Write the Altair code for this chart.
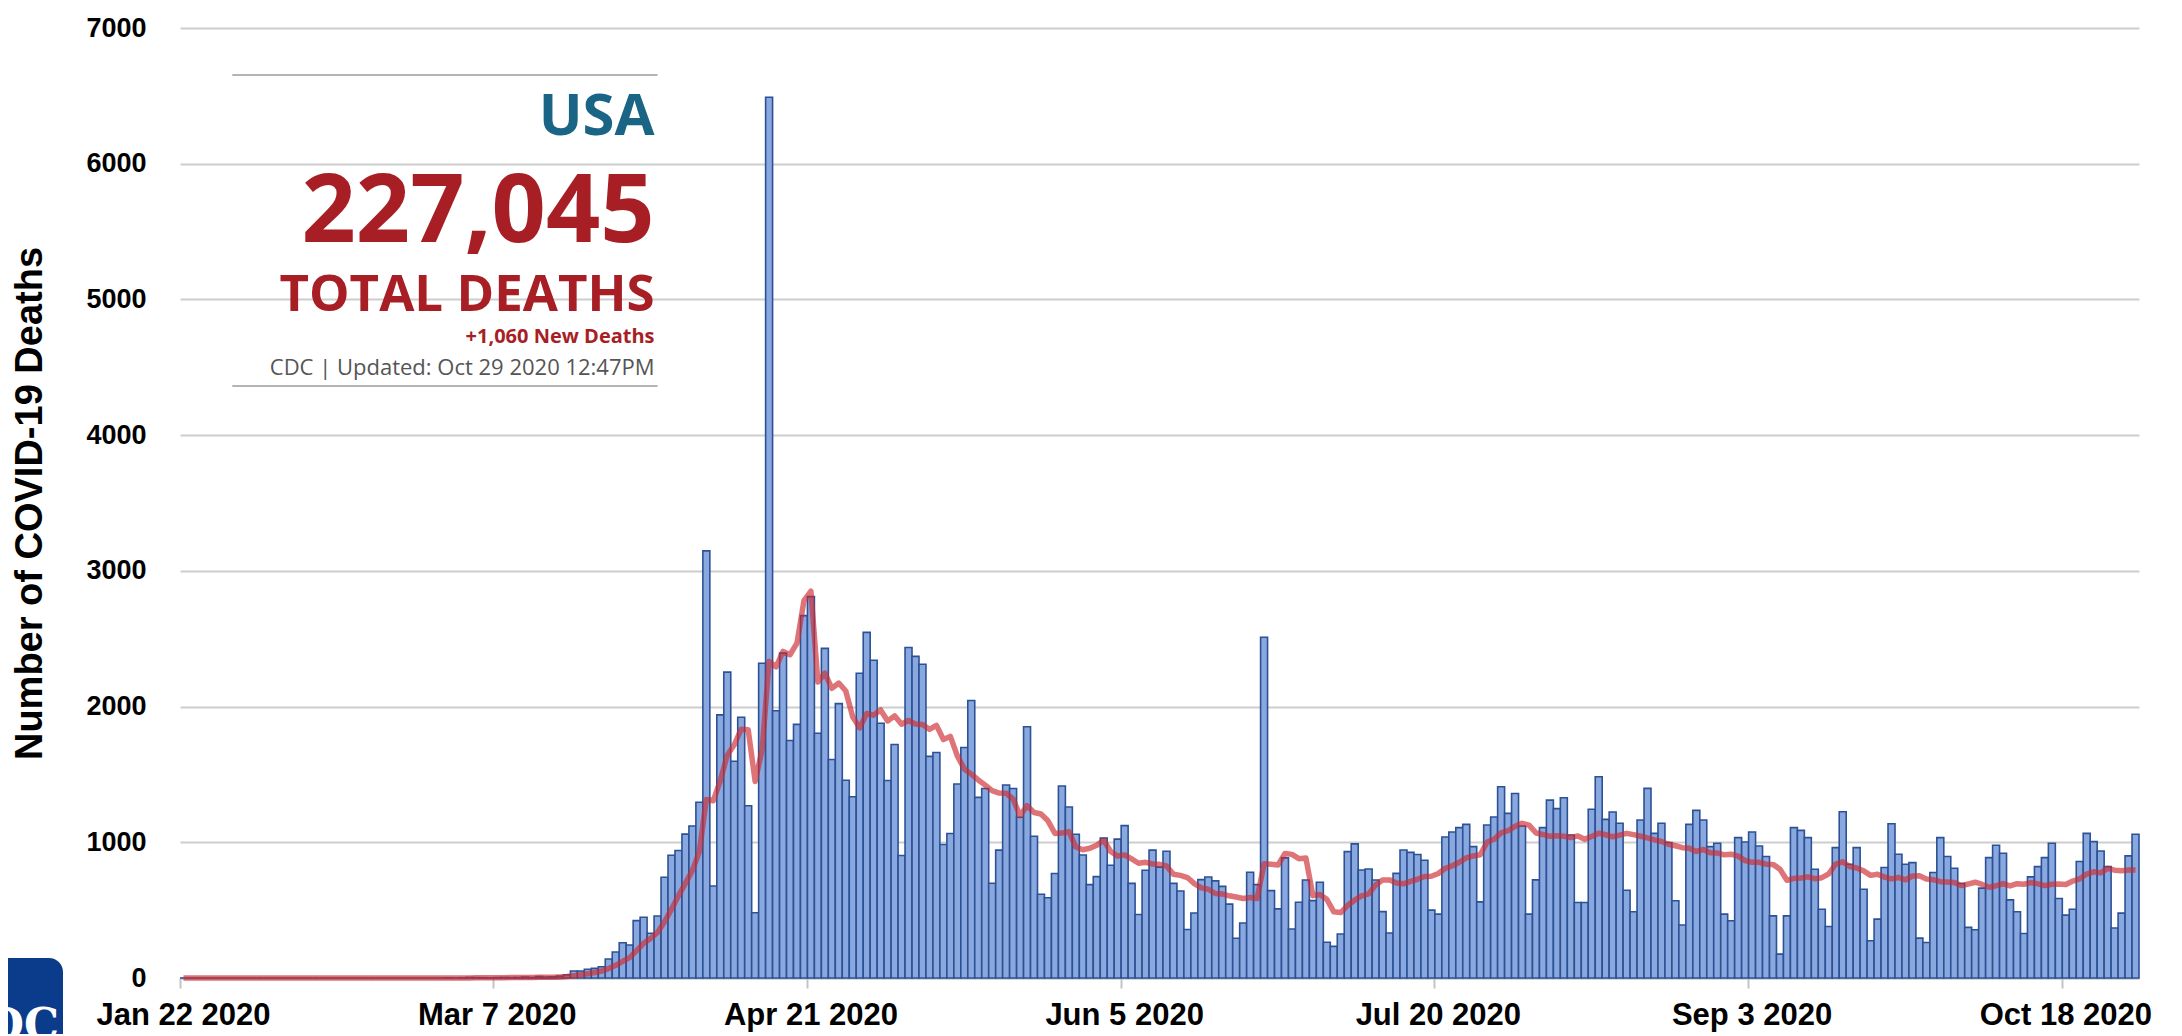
import altair as alt
import pandas as pd

# ---------------- data (daily new deaths, Jan 22 - Oct 28 2020) ----------------
start_date = "2020-01-22"
deaths_jan = [0, 0, 0, 0, 0, 0, 0, 0, 0, 0]
deaths_feb = [0, 0, 0, 0, 0, 0, 0, 0, 0, 0, 0, 0, 0, 0, 0, 0, 0, 0, 0, 0,
              0, 0, 0, 0, 0, 0, 0, 0, 1]
deaths_mar = [0, 1, 4, 3, 2, 1, 3, 4, 3, 4, 7, 4, 11, 7, 9, 14, 23, 52, 52, 64,
              71, 83, 140, 192, 260, 243, 423, 448, 330, 457, 742]
deaths_apr = [905, 939, 1060, 1120, 1295, 3147, 678, 1939, 2254, 1597, 1921, 1269,
              481, 2319, 6490, 1969, 2394, 1750, 1869, 2670, 2810, 1803, 2429, 1610,
              2022, 1457, 1335, 2245, 2547, 2341]
deaths_may = [1877, 1455, 1721, 903, 2435, 2370, 2312, 1633, 1662, 984, 1065, 1429,
              1698, 2045, 1331, 1396, 698, 942, 1422, 1396, 1185, 1851, 1045, 617,
              591, 770, 1415, 1260, 1059, 906, 688]
deaths_jun = [747, 1031, 831, 1023, 1123, 697, 468, 794, 942, 817, 934, 697, 641,
              357, 479, 725, 744, 716, 675, 544, 293, 405, 779, 688, 2511, 644, 509,
              885, 361, 558]
deaths_jul = [722, 570, 705, 263, 233, 324, 931, 988, 796, 803, 722, 489, 332, 771,
              943, 926, 910, 868, 500, 471, 1039, 1076, 1108, 1132, 968, 561, 1127,
              1186, 1409, 1213, 1360]
deaths_aug = [1120, 471, 723, 1108, 1311, 1248, 1328, 1054, 556, 556, 1243, 1483,
              1169, 1223, 1140, 647, 488, 1164, 1397, 1066, 1140, 998, 569, 390, 1132,
              1235, 1164, 968, 993, 471, 422]
deaths_sep = [1034, 1002, 1076, 973, 895, 458, 176, 458, 1108, 1088, 1034, 801, 507,
              380, 961, 1225, 838, 961, 654, 275, 434, 814, 1137, 912, 838, 850, 294,
              262, 777, 1034]
deaths_oct = [895, 809, 696, 373, 355, 662, 887, 978, 919, 576, 488, 328, 745, 821,
              887, 993, 586, 463, 507, 858, 1066, 1005, 936, 821, 368, 478, 900, 1059]

deaths = (deaths_jan + deaths_feb + deaths_mar + deaths_apr + deaths_may +
          deaths_jun + deaths_jul + deaths_aug + deaths_sep + deaths_oct)

tick_labels = ["Jan 22 2020", "Mar 7 2020", "Apr 21 2020", "Jun 5 2020",
               "Jul 20 2020", "Sep 3 2020", "Oct 18 2020"]
y_ticks = [0, 1000, 2000, 3000, 4000, 5000, 6000, 7000]

# annotation box (placed in data coordinates)
ann_lines = ["USA", "227,045", "TOTAL DEATHS", "+1,060 New Deaths",
             "CDC | Updated: Oct 29 2020 12:47PM"]
ann_levels = [6212, 5426, 4917, 4680, 4444]
box_levels = [6654, 4363]
box_left_date = "Jan 29 2020"
box_right_date = "Mar 30 2020"

# ---------------- tables ----------------
dates = pd.date_range(start_date, periods=len(deaths), freq="D")
date_labels = [f"{d:%b} {d.day} {d.year}" for d in dates]
df = pd.DataFrame({"date": date_labels, "idx": list(range(len(deaths))), "deaths": deaths})

W, H = 1959, 950
xscale = alt.Scale(domain=date_labels, paddingInner=0, paddingOuter=0)
yscale = alt.Scale(domain=[0, 7000], nice=False)

x_axis = alt.Axis(values=tick_labels, bandPosition=0, labelAngle=0,
                  labelFont="Liberation Sans", labelFontSize=31, labelFontWeight="bold",
                  labelColor="#000000", labelPadding=12, labelOverlap=False,
                  tickSize=10, tickWidth=2, tickColor="#c4c4c4",
                  domainColor="#c4c4c4", domainWidth=2, grid=False, title=None)
y_axis = alt.Axis(values=y_ticks, format="d", domain=False, ticks=False,
                  labelFont="Liberation Sans", labelFontSize=27, labelFontWeight="bold",
                  labelColor="#000000", labelPadding=34,
                  gridColor="#cdcdcd", gridWidth=2,
                  title="Number of COVID-19 Deaths", titleFont="Liberation Sans",
                  titleFontSize=38, titleFontWeight="bold", titleColor="#000000",
                  titleX=-150, titleY=H / 2, titleAngle=270, titleAlign="center",
                  titleBaseline="middle")


def xenc(field):
    return alt.X(field, scale=xscale, axis=x_axis)


def yenc(field):
    return alt.Y(field, scale=yscale, axis=y_axis)


base = alt.Chart(df)
bars = base.mark_bar(fill="#89a8df", stroke="#2c5295", strokeWidth=1.6).encode(
    x=xenc("date:O"),
    y=yenc("deaths:Q"),
)

line = base.transform_window(
    avg="mean(deaths)", frame=[-6, 0], sort=[alt.SortField("idx", order="ascending")]
).mark_line(color="#cc2a30", opacity=0.65, strokeWidth=5.5, strokeJoin="round").encode(
    x=xenc("date:O"),
    y=yenc("avg:Q"),
)

box_df = pd.DataFrame({"date": [box_left_date] * 2, "x2": [box_right_date] * 2, "v": box_levels})
box_rules = alt.Chart(box_df).mark_rule(color="#b4b4b4", strokeWidth=2).encode(
    x=xenc("date:O"),
    x2="x2",
    y=yenc("v:Q"),
)

ann_df = pd.DataFrame({"date": [box_right_date] * len(ann_lines), "v": ann_levels, "t": ann_lines})
ann_styles = [
    dict(fontSize=58, fontWeight="bold", color="#1a6585"),
    dict(fontSize=95, fontWeight="bold", color="#a81e25"),
    dict(fontSize=51, fontWeight="bold", color="#a81e25"),
    dict(fontSize=20, fontWeight="bold", color="#a81e25"),
    dict(fontSize=22, fontWeight="normal", color="#555555"),
]
texts = []
for i, st in enumerate(ann_styles):
    texts.append(
        alt.Chart(ann_df.iloc[[i]]).mark_text(
            font="Open Sans", align="right", baseline="alphabetic", dx=-3, **st
        ).encode(
            x=xenc("date:O"),
            y=yenc("v:Q"),
            text="t:N",
        )
    )

logo_df = pd.DataFrame({"k": [0]})
logo = alt.Chart(logo_df).mark_rect(color="#0b3c8c", cornerRadius=14).encode(
    x=alt.value(-190), x2=alt.value(-117), y=alt.value(930), y2=alt.value(1040)
)
logo_text = alt.Chart(logo_df).mark_text(
    text="CDC", font="DejaVu Serif", fontSize=44, fontWeight="bold", color="#ffffff",
    align="right", baseline="alphabetic"
).encode(x=alt.value(-121), y=alt.value(1012))

chart = alt.layer(bars, line, box_rules, *texts, logo, logo_text).properties(
    width=W, height=H,
    padding={"left": 172, "top": 20, "right": 35, "bottom": 56},
    autosize=alt.AutoSizeParams(type="none"),
).configure_view(stroke=None)

chart.save("out.html", embed_options={"renderer": "svg", "actions": False})
